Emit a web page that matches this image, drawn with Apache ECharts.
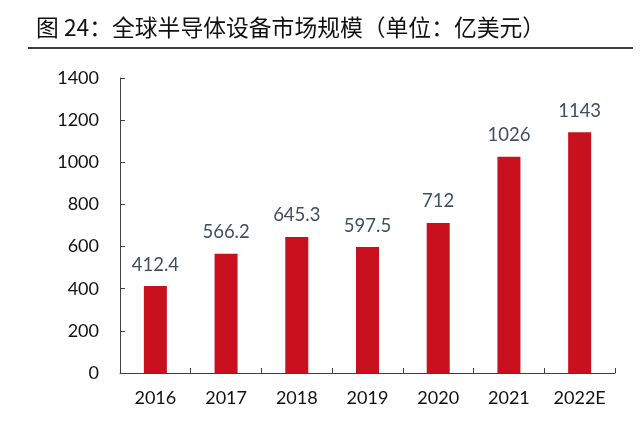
<!DOCTYPE html>
<html>
<head>
<meta charset="utf-8">
<script src="https://cdn.jsdelivr.net/npm/echarts@6/dist/echarts.min.js"></script>
<style>
  html, body { margin: 0; padding: 0; background: #fff; }
  #chart { width: 640px; height: 434px; }
</style>
</head>
<body>
<div id="chart"></div>
<script>
// 全球半导体设备市场规模（亿美元）
var years = ['2016', '2017', '2018', '2019', '2020', '2021', '2022E'];
var marketSize = [412.4, 566.2, 645.3, 597.5, 712, 1026, 1143];
var yTicks = [0, 200, 400, 600, 800, 1000, 1200, 1400];

var titleText = '图 24：全球半导体设备市场规模（单位：亿美元）';

var chart = echarts.init(document.getElementById('chart'), null, { renderer: 'canvas' });

var option = {
  animation: false,
  title: {
    text: titleText,
    left: 31,
    top: 11,
    textStyle: {
      fontFamily: 'Noto Sans CJK SC',
      fontSize: 22.8,
      fontWeight: 'normal',
      color: '#111'
    }
  },
  graphic: [{
    type: 'line',
    shape: { x1: 28, y1: 48, x2: 633, y2: 48 },
    style: { stroke: '#000', lineWidth: 1.5 }
  }],
  grid: {
    left: 120,
    right: 25,
    top: 78,
    bottom: 61
  },
  xAxis: {
    type: 'category',
    data: years,
    axisLine: { lineStyle: { color: '#404040', width: 1 } },
    axisTick: { show: true, inside: true, length: 5, alignWithLabel: false, lineStyle: { color: '#404040' } },
    axisLabel: {
      margin: 16,
      fontFamily: 'Lato',
      fontSize: 18,
      color: '#111'
    }
  },
  yAxis: {
    type: 'value',
    min: yTicks[0],
    max: yTicks[yTicks.length - 1],
    interval: 200,
    splitLine: { show: false },
    axisLine: { show: true, lineStyle: { color: '#404040', width: 1 } },
    axisTick: { show: true, inside: true, length: 5, lineStyle: { color: '#404040' } },
    axisLabel: {
      margin: 21,
      fontFamily: 'Lato',
      fontSize: 18,
      color: '#111',
      formatter: function (v) { return String(v); }
    }
  },
  series: [{
    type: 'bar',
    data: marketSize,
    barWidth: 23,
    itemStyle: { color: '#C8101E' },
    label: {
      show: true,
      position: 'top',
      distance: 12,
      fontFamily: 'Lato',
      fontSize: 18.5,
      color: '#404E63'
    }
  }]
};

chart.setOption(option);
</script>
</body>
</html>
